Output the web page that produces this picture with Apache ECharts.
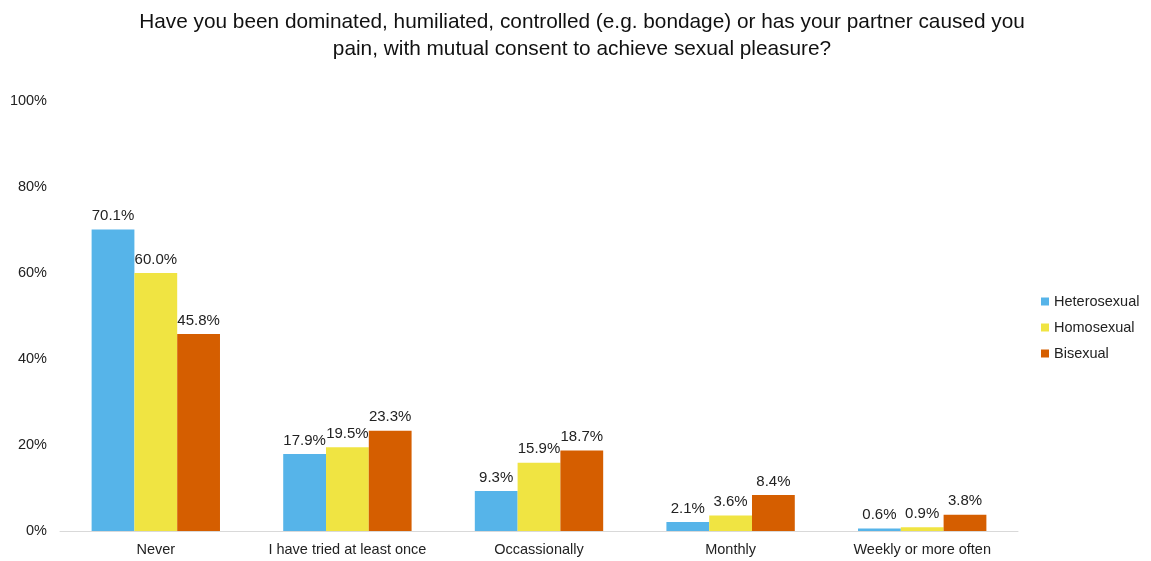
<!DOCTYPE html>
<html><head><meta charset="utf-8">
<script src="https://cdn.jsdelivr.net/npm/echarts@6/dist/echarts.min.js"></script>
<style>html,body{margin:0;padding:0;background:#fff}#c{width:1151px;height:561px}</style>
</head><body><div id="c"></div>
<script>
var categories = ["Never", "I have tried at least once", "Occassionally", "Monthly", "Weekly or more often"];
var heterosexual = [70.1, 17.9, 9.3, 2.1, 0.6];
var homosexual = [60.0, 19.5, 15.9, 3.6, 0.9];
var bisexual = [45.8, 23.3, 18.7, 8.4, 3.8];
var seriesNames = ["Heterosexual", "Homosexual", "Bisexual"];
var colors = ["#56B4E9", "#F0E442", "#D55E00"];
var font = "Liberation Sans, Arial, sans-serif";
function mk(name, data, color) {
  return {
    name: name, type: "bar", data: data, barGap: "0%", barCategoryGap: "33%",
    itemStyle: {color: color},
    label: {show: true, position: "top", distance: 6, color: "#222", fontSize: 15, fontFamily: font,
      formatter: function(p){ return p.value.toFixed(1) + "%"; }}
  };
}
var chart = echarts.init(document.getElementById("c"));
chart.setOption({
  animation: false,
  title: {
    text: "Have you been dominated, humiliated, controlled (e.g. bondage) or has your partner caused you\npain, with mutual consent to achieve sexual pleasure?",
    left: 577, top: 4, textAlign: "center",
    textStyle: {fontSize: 20.8, fontWeight: "normal", color: "#111", fontFamily: font, lineHeight: 27}
  },
  legend: {
    orient: "vertical", left: 1036, top: 289, itemWidth: 8, itemHeight: 8, itemGap: 11,
    icon: "rect", data: seriesNames,
    textStyle: {fontSize: 14.5, color: "#222", fontFamily: font}
  },
  grid: {left: 60, right: 133, top: 101, bottom: 30, containLabel: false},
  xAxis: {
    type: "category", data: categories,
    axisLine: {lineStyle: {color: "#d9d9d9"}}, axisTick: {show: false},
    axisLabel: {fontSize: 14.5, color: "#222", fontFamily: font, margin: 11, interval: 0}
  },
  yAxis: {
    type: "value", min: 0, max: 100, interval: 20,
    splitLine: {show: false}, axisLine: {show: false}, axisTick: {show: false},
    axisLabel: {fontSize: 14.5, color: "#222", fontFamily: font, margin: 13, formatter: "{value}%"}
  },
  series: [mk(seriesNames[0], heterosexual, colors[0]), mk(seriesNames[1], homosexual, colors[1]), mk(seriesNames[2], bisexual, colors[2])]
});
</script></body></html>
